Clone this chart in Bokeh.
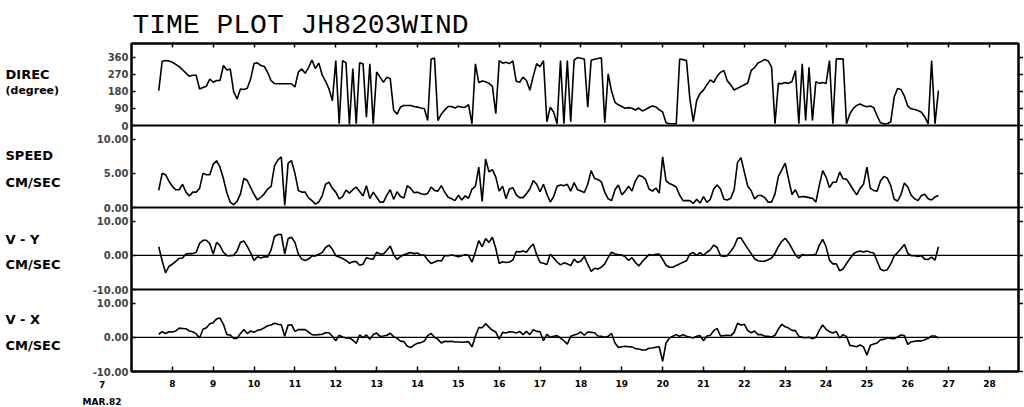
from bokeh.plotting import figure
from bokeh.layouts import column, row
from bokeh.models import Range1d, FixedTicker, LinearAxis, Span
from bokeh.embed import file_html
from bokeh.resources import INLINE
from bokeh.core.properties import value

# ---------------- data ----------------
# 2-hourly samples, first one on 7 March 1982 at 16:00
first_sample_day = 7 + 16 / 24
sample_step_day = 2 / 24

direction = [
    184, 338, 342, 340, 333, 322, 310, 294, 276, 259,
    265, 265, 192, 200, 207, 245, 228, 237, 237, 316,
    292, 298, 178, 140, 192, 190, 196, 246, 327, 330,
    316, 311, 279, 236, 221, 220, 220, 220, 220, 220,
    203, 281, 298, 275, 305, 345, 300, 329, 267, 233,
    193, 130, 342, 9, 342, 330, 5, 300, 9, 330,
    325, 44, 325, 9, 282, 255, 228, 255, 246, 80,
    60, 97, 105, 105, 105, 100, 97, 92, 88, 26,
    350, 355, 26, 60, 82, 100, 100, 92, 101, 96,
    97, 110, 9, 325, 226, 234, 230, 222, 206, 62,
    342, 328, 333, 326, 340, 233, 228, 255, 237, 186,
    260, 326, 310, 342, 20, 97, 70, 9, 342, 9,
    342, 20, 345, 358, 354, 350, 97, 344, 349, 353,
    357, 15, 272, 180, 122, 109, 100, 91, 94, 91,
    82, 92, 77, 84, 95, 103, 98, 82, 71, 15,
    9, 9, 9, 350, 347, 342, 140, 20, 132, 169,
    186, 215, 240, 227, 259, 280, 290, 235, 214, 187,
    196, 205, 215, 224, 290, 305, 329, 338, 348, 340,
    307, 9, 222, 220, 226, 222, 232, 290, 9, 325,
    26, 307, 26, 230, 222, 227, 221, 342, 9, 351,
    351, 351, 9, 62, 90, 106, 113, 104, 99, 103,
    94, 50, 14, 9, 9, 20, 150, 195, 190, 155,
    102, 88, 84, 79, 70, 45, 9, 342, 9, 184,
]

speed = [
    2.5, 5.0, 4.8, 3.85, 3.1, 2.6, 2.6, 3.4, 2.25, 1.7,
    2.25, 2.25, 2.8, 5.0, 4.8, 4.8, 6.35, 6.85, 5.9, 4.2,
    2.15, 0.78, 0.4, 0.9, 2.0, 4.25, 3.95, 2.9, 1.9, 1.1,
    1.5, 2.0, 2.7, 3.1, 6.1, 6.95, 7.4, 0.3, 6.5, 6.85,
    5.0, 2.5, 2.25, 2.25, 1.4, 1.0, 0.5, 0.8, 1.7, 3.4,
    3.7, 2.8, 2.25, 1.27, 1.6, 2.55, 2.1, 2.6, 3.0, 2.35,
    1.7, 3.2, 1.3, 2.25, 1.5, 0.78, 0.78, 1.8, 2.6, 1.2,
    2.3, 1.6, 1.4, 3.2, 2.8, 2.15, 2.25, 2.0, 1.9, 2.05,
    3.0, 2.5, 2.4, 3.2, 2.25, 1.5, 1.27, 1.0, 1.8, 1.1,
    1.7, 1.35, 2.7, 3.1, 5.9, 0.9, 7.1, 5.2, 5.55, 4.45,
    2.4, 3.1, 1.3, 2.7, 2.9, 1.85, 1.45, 1.45, 2.0, 2.7,
    3.95, 3.4, 2.3, 3.4, 1.95, 0.8, 1.6, 3.1, 3.3, 3.2,
    3.4, 2.4, 3.65, 2.6, 2.4, 2.2, 3.4, 5.4, 4.25, 4.1,
    3.75, 2.25, 1.27, 1.0, 2.6, 3.3, 1.85, 2.4, 3.1, 2.4,
    3.9, 4.7, 4.55, 4.1, 2.7, 2.4, 2.85, 2.1, 7.4, 3.9,
    3.5, 3.3, 3.0, 1.8, 1.0, 1.0, 1.0, 0.6, 1.2, 0.65,
    1.6, 0.75, 1.2, 2.7, 3.3, 2.7, 1.2, 1.1, 1.35, 2.6,
    6.6, 7.3, 5.2, 3.1, 2.45, 1.27, 1.76, 1.76, 1.45, 0.78,
    0.78, 2.0, 4.55, 5.5, 6.5, 4.1, 1.9, 2.6, 1.5, 1.6,
    1.55, 1.45, 1.35, 0.8, 3.2, 5.4, 4.45, 2.9, 3.7, 3.7,
    5.2, 4.2, 4.15, 3.4, 2.6, 1.85, 2.8, 3.4, 5.9, 2.8,
    2.5, 2.4, 3.9, 4.55, 4.3, 3.2, 1.2, 0.95, 1.9, 3.6,
    3.0, 1.8, 1.27, 1.0, 1.76, 1.95, 1.27, 1.1, 1.55, 1.76,
]

v_y = [
    2.5, -1.6, -5.1, -3.2, -2.6, -1.75, -0.9, -0.8, 0.4, 0.5,
    0.5, 0.9, 3.5, 4.4, 4.4, 3.4, 0.4, 3.8, 2.8, 0.9,
    -0.1, -0.1, 0.0, 1.3, 3.8, 4.2, 2.6, 0.7, -1.5, -0.4,
    -0.8, -0.4, -0.5, 1.6, 5.5, 6.1, 6.1, 0.4, 4.9, 5.3,
    3.8, 0.4, -1.1, -1.5, -1.1, -0.2, -0.2, 0.3, 0.8, 2.3,
    3.0, 1.75, -0.1, -0.5, -0.9, -1.5, -2.3, -1.85, -1.85, -2.9,
    -2.6, -0.7, -1.0, -1.1, 0.9, 0.4, 0.4, 1.5, 2.7, 0.2,
    -1.2, -0.4, 0.2, 0.5, 0.8, 0.5, 0.7, 0.0, 0.1, -1.4,
    -2.4, -1.95, -1.5, -1.65, -0.1, -0.1, 0.1, -0.1, -0.4, -0.1,
    0.2, 0.0, -2.0, 1.0, 4.3, 2.5, 4.9, 3.8, 5.3, 2.0,
    -2.4, -1.85, -2.1, -1.95, -1.4, 1.1, 1.0, 1.3, 0.9, 2.3,
    3.3, 0.2, -2.1, -2.3, -2.7, 0.3, -0.8, -1.95, -2.8, -2.2,
    -2.5, -3.0, -1.1, -2.1, -1.65, -0.3, -2.6, -4.7, -3.8, -4.0,
    -3.5, -2.5, -0.6, 0.9, 0.4, 0.2, 0.1, -0.4, -1.5, -0.7,
    -2.1, -3.1, -1.85, -0.8, 0.2, 0.0, 0.3, 0.4, -1.2, -2.9,
    -3.5, -3.5, -3.0, -2.5, -2.0, -1.6, 0.4, 0.8, 0.0, 0.8,
    0.0, 0.9, 1.6, 3.0, 2.3, -0.1, -0.3, -0.1, 1.2, 2.6,
    5.0, 5.1, 3.5, 1.95, 0.5, -1.0, -1.6, -1.75, -1.75, -1.3,
    -0.8, 0.6, 2.6, 4.1, 5.0, 3.7, 1.95, 0.1, -0.8, 0.2,
    0.0, 0.1, 0.1, 0.3, 2.9, 4.7, 2.5, -1.4, -2.5, -2.5,
    -4.5, -4.0, -2.4, -1.0, 0.4, 1.0, 1.3, 1.0, 1.3, 0.9,
    0.7, -1.75, -4.1, -4.5, -4.2, -2.5, -0.2, 0.8, 1.95, 3.2,
    0.6, -0.1, -0.1, -0.3, -0.1, -1.1, -1.2, -0.5, -1.4, 2.5,
]

v_x = [
    0.9, 1.65, 1.1, 1.65, 1.55, 1.85, 2.7, 2.6, 2.5, 1.85,
    1.65, 1.0, -0.2, 2.35, 2.8, 4.0, 4.3, 5.4, 5.65, 3.8,
    0.8, 0.7, -0.3, -0.3, 1.1, 2.25, 1.1, 1.85, 1.45, 2.05,
    2.25, 2.8, 3.4, 3.6, 4.1, 3.8, 3.7, 0.3, 3.6, 3.7,
    1.75, 2.25, 2.25, 2.25, 1.55, 0.8, 0.7, 0.8, 0.9, 1.35,
    1.35, 0.3, -1.0, 0.6, 0.1, -0.2, -0.2, -0.8, -1.8, 0.7,
    -0.1, 0.7, -0.6, 0.8, 1.25, 0.3, 0.4, 0.6, 1.2, 0.2,
    -0.3, -1.1, -1.25, -2.6, -3.0, -2.25, -1.75, -1.55, -1.1, 0.5,
    1.15, 0.0, -0.6, -1.65, -1.15, -1.25, -1.15, -1.35, -1.35, -1.45,
    -1.35, -1.25, -2.8, 0.3, 2.9, 2.8, 4.0, 3.0, 2.05, 1.55,
    -0.5, 1.45, 1.25, 1.65, 1.55, 1.25, 1.75, 0.8, 1.75, 0.8,
    2.25, 1.75, 1.65, -1.0, 0.9, 0.0, 0.3, 0.5, -0.2, -1.0,
    -2.0, 0.3, 0.7, 1.0, 1.55, 0.6, 1.55, 1.45, 1.35, 0.4,
    0.3, 0.0, 0.3, 1.15, -1.65, -3.0, -2.75, -2.6, -2.75, -2.8,
    -3.3, -3.4, -3.7, -3.7, -3.2, -3.1, -2.9, -2.75, -7.0, -1.65,
    -0.2, 0.3, 0.8, 0.3, 0.8, 0.3, 0.0, -0.2, 0.3, 0.5,
    -1.0, 0.4, 0.6, 1.95, 2.6, 0.4, 0.5, 0.6, 0.5, 1.45,
    4.1, 3.6, 3.8, 1.95, 1.35, 1.85, 0.8, 0.8, 0.3, 0.3,
    0.1, 0.6, 2.45, 3.8, 3.1, 2.7, 2.05, 1.95, 0.3, 0.0,
    -0.1, 0.0, -0.4, 0.0, 2.05, 3.6, 2.35, 1.65, 1.25, 1.75,
    -0.2, 0.8, 0.2, -2.35, -2.55, -2.75, -2.25, -2.8, -5.2, -2.35,
    -1.95, -1.65, -0.7, -0.6, -0.1, -0.3, -0.4, 0.1, 0.7, 0.5,
    -2.05, -1.35, -1.15, -1.05, -1.05, -0.7, -0.3, 0.4, 0.4, -0.2,
]

day_ticks = list(range(7, 29))
day_tick_labels = [str(d) for d in range(8, 29)]
direc_ticks = [0, 90, 180, 270, 360]
speed_ticks = [0, 5, 10]
component_ticks = [-10, 0, 10]

title_text = "TIME PLOT JH8203WIND"
panel_names = [("DIREC", "(degree)"), ("SPEED", "CM/SEC"), ("V - Y", "CM/SEC"), ("V - X", "CM/SEC")]
first_day_label = "7"
month_label = "MAR.82"

days = [first_sample_day + i * sample_step_day for i in range(len(speed))]

# ---------------- geometry ----------------
X_START, X_END = 7, 28.71
LABEL_W = 88          # left strip with panel names
AXIS_W = 43           # left border of the plot (tick labels)
FRAME_W, FRAME_H = 887, 328
RIGHT_W = 5
TOTAL_W = LABEL_W + AXIS_W + FRAME_W + RIGHT_W
TITLE_H = 41
TOP_B, BOT_B = 2, 7
BOTTOM_H = 29
ppd = FRAME_W / (X_END - X_START)
FONT = "DejaVu Sans"

# panel name -> (low, high, band index from bottom)
panels = {
    "direc": (0, 432, 3),
    "speed": (0, 12, 2),
    "vy": (-10, 14, 1),
    "vx": (-10, 14, 0),
}


def band_range(lo, hi, band):
    span = hi - lo
    return Range1d(lo - band * span, hi + (3 - band) * span)


def to_band(v, lo, hi, band):
    return round(band + (v - lo) / (hi - lo), 6)


def hide_labels(ax):
    ax.major_label_text_font_size = "0px"
    ax.major_label_text_color = None
    ax.major_label_standoff = 0


# ---------------- main plot ----------------
x_range = Range1d(X_START, X_END)
p = figure(x_range=x_range, y_range=Range1d(0, 4), frame_width=FRAME_W, frame_height=FRAME_H,
           output_backend="svg", toolbar_location=None,
           min_border_left=AXIS_W, min_border_right=RIGHT_W,
           min_border_top=TOP_B, min_border_bottom=BOT_B)
p.extra_y_ranges = {k: band_range(*v) for k, v in panels.items()}
p.xgrid.visible = False
p.ygrid.visible = False
p.outline_line_color = "black"
p.outline_line_width = 2

# left axis carrying the four panels' ticks
tick_pos, overrides = [], {}
for key, ticks, fmt in (("direc", direc_ticks, "%d"), ("speed", speed_ticks, "%.2f"),
                        ("vy", component_ticks, "%.2f"), ("vx", component_ticks, "%.2f")):
    for t in ticks:
        pos = to_band(t, *panels[key])
        tick_pos.append(pos)
        overrides[pos] = fmt % t

ly = p.yaxis[0]
ly.ticker = FixedTicker(ticks=tick_pos)
ly.major_label_overrides = overrides
ly.major_tick_in = 4
ly.major_tick_out = 0
ly.minor_tick_line_color = None
ly.axis_line_width = 2
ly.major_tick_line_width = 1.5
ly.major_label_text_font = FONT
ly.major_label_text_font_style = "bold"
ly.major_label_text_font_size = "10px"
ly.major_label_standoff = 3

ry = LinearAxis(ticker=FixedTicker(ticks=tick_pos), major_tick_in=0, major_tick_out=5,
                minor_tick_line_color=None, axis_line_width=2, major_tick_line_width=1.5)
hide_labels(ry)
p.add_layout(ry, "right")

bx = p.xaxis[0]
bx.ticker = FixedTicker(ticks=day_ticks)
bx.major_tick_in = 5
bx.major_tick_out = 0
bx.minor_tick_line_color = None
bx.axis_line_width = 2
bx.major_tick_line_width = 1.5
hide_labels(bx)

tx = LinearAxis(ticker=FixedTicker(ticks=day_ticks), major_tick_in=4, major_tick_out=0,
                minor_tick_line_color=None, axis_line_width=2, major_tick_line_width=1.5)
hide_labels(tx)
p.add_layout(tx, "above")

# panel separators and zero lines
for b in (1, 2, 3):
    p.add_layout(Span(location=b, dimension="width", line_color="black", line_width=2))
for key in ("vy", "vx"):
    p.add_layout(Span(location=0, dimension="width", line_color="black", line_width=1.3,
                      y_range_name=key))

line_kw = dict(line_color="black", line_width=1.6)
p.line(days, direction, y_range_name="direc", **line_kw)
p.line(days, speed, y_range_name="speed", **line_kw)
p.line(days, v_y, y_range_name="vy", **line_kw)
p.line(days, v_x, y_range_name="vx", **line_kw)


# ---------------- text strips ----------------
def strip(width, height, xr, yr):
    f = figure(x_range=xr, y_range=yr, frame_width=width, frame_height=height,
               output_backend="svg", toolbar_location=None,
               x_axis_location=None, y_axis_location=None,
               min_border_left=0, min_border_right=0, min_border_top=0, min_border_bottom=0)
    f.xgrid.visible = False
    f.ygrid.visible = False
    f.outline_line_color = None
    return f


# title strip (pixel units, y up)
title_fig = strip(TOTAL_W, TITLE_H, Range1d(0, TOTAL_W), Range1d(0, TITLE_H))
title_fig.text(x=[132], y=[16], text=[title_text], text_font=value("Liberation Mono"),
               text_font_size="28px", text_align="left", text_baseline="alphabetic",
               text_color="black")

# left strip with the panel names (band units, same vertical scale as the plot)
main_h = TOP_B + FRAME_H + BOT_B
label_fig = strip(LABEL_W, main_h, Range1d(0, LABEL_W),
                  Range1d(-BOT_B * 4 / FRAME_H, 4 + TOP_B * 4 / FRAME_H))
name_y = [3.650, 3.448, 2.659, 2.329, 1.638, 1.333, 0.662, 0.338]
name_text = [s for pair in panel_names for s in pair]
big = [i for i, s in enumerate(name_text) if s != "(degree)"]
small = [i for i, s in enumerate(name_text) if s == "(degree)"]
for idx, size in ((big, "13px"), (small, "11px")):
    label_fig.text(x=[5] * len(idx), y=[name_y[i] for i in idx], text=[name_text[i] for i in idx],
                   text_font=value(FONT), text_font_style="bold", text_font_size=size,
                   text_align="left", text_baseline="middle", text_color="black")

# bottom strip: day labels in day units (same horizontal scale as the plot)
left_day = X_START - (LABEL_W + AXIS_W) / ppd
bottom_fig = strip(TOTAL_W, BOTTOM_H, Range1d(left_day, left_day + TOTAL_W / ppd),
                   Range1d(0, BOTTOM_H))
bottom_fig.text(x=list(range(8, 29)), y=[24] * len(day_tick_labels), text=day_tick_labels,
                text_font=value(FONT), text_font_style="bold", text_font_size="9px",
                text_align="center", text_baseline="middle", text_color="black")
bottom_fig.text(x=[6.28, 6.28], y=[23, 6], text=[first_day_label, month_label],
                text_font=value(FONT), text_font_style="bold", text_font_size="9px",
                text_align="center", text_baseline="middle", text_color="black")

layout = column(title_fig, row(label_fig, p, spacing=0), bottom_fig, spacing=0)

with open("out.html", "w") as f:
    f.write(file_html(layout, INLINE))
